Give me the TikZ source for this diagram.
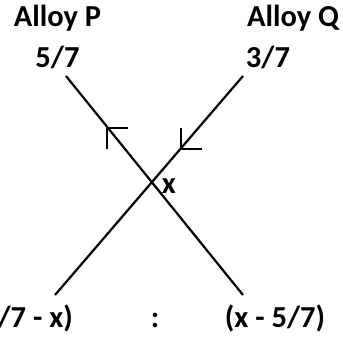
\documentclass[tikz,border=0pt]{standalone}
\usepackage{fontspec}
\setmainfont{Carlito}
\usepackage{tikz}
\usetikzlibrary{calc}

\begin{document}
\begin{tikzpicture}[
  x=1pt, y=-1pt,
  lbl/.style={inner sep=0pt, anchor=base, font=\fontsize{30.5}{36}\selectfont\bfseries},
  ln/.style={line width=2.2pt, black}
]
  \useasboundingbox (0,0) rectangle (343,341);

  \node[lbl] (P) at (57.5,26) {Alloy P};
  \node[lbl] (Q) at (293,26) {Alloy Q};
  \node[lbl] (pP) at (57.5,67) {5/7};
  \node[lbl] (pQ) at (268,67) {3/7};
  \node[lbl] (X) at (169,193) {x};

  \node[lbl, anchor=base east] (rP) at (73,327) {(5/7 - x)};
  \node[lbl] (colon) at (155,327) {:};
  \node[lbl] (rQ) at (275,327) {(x - 5/7)};

  \coordinate (pTop) at (66,76);
  \coordinate (pBot) at (243,295);
  \coordinate (qTop) at (243,76);
  \coordinate (qBot) at (55,295);

  \draw[ln] (pBot) -- (pTop);
  \draw[ln] (qTop) -- (qBot);

  % arrow heads on the lines
  \coordinate (hP) at (107,128);
  \coordinate (hQ) at (181,149);
  \draw[ln] ($(hP)+(21,0)$) -- (hP) -- ($(hP)+(0,21)$);
  \draw[ln] ($(hQ)+(0,-21)$) -- (hQ) -- ($(hQ)+(21,0)$);
\end{tikzpicture}
\end{document}
